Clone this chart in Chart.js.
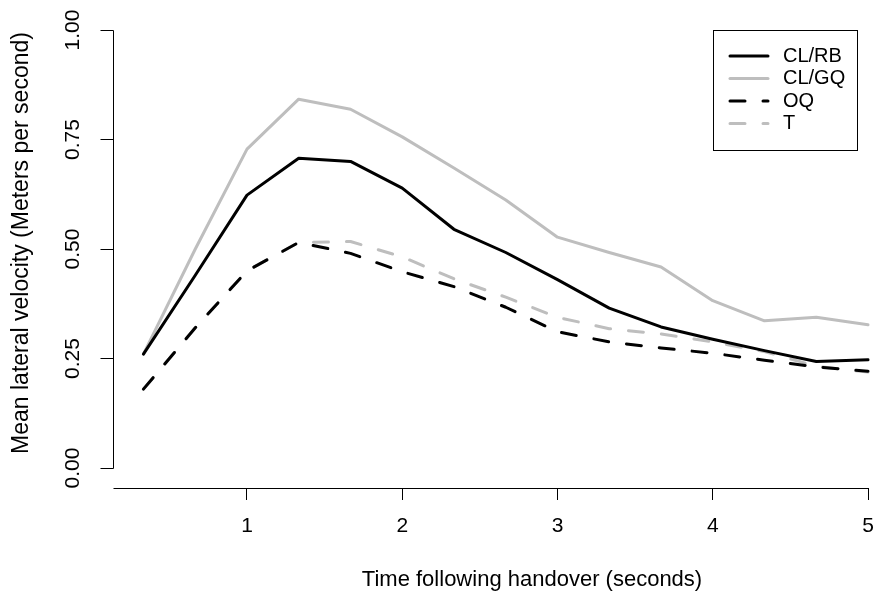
<!DOCTYPE html>
<html>
<head>
<meta charset="utf-8">
<script src="https://cdn.jsdelivr.net/npm/chart.js@4/dist/chart.umd.min.js"></script>
<style>
    body { margin: 0; background: #fff; }
    #myChart { display: block; }
</style>
</head>
<body>
<canvas id="myChart" width="878" height="601"></canvas>
<script>
// time after handover (s), one sample every third of a second
const times = [0.333, 0.667, 1, 1.333, 1.667, 2, 2.333, 2.667, 3, 3.333, 3.667, 4, 4.333, 4.667, 5];

const clrb = [0.26, 0.44, 0.623, 0.707, 0.70, 0.639, 0.545, 0.492, 0.43, 0.365, 0.322, 0.294, 0.268, 0.243, 0.247];
const clgq = [0.26, 0.50, 0.728, 0.842, 0.819, 0.756, 0.685, 0.612, 0.527, 0.492, 0.459, 0.382, 0.336, 0.344, 0.327];
const oq = [0.18, 0.32, 0.45, 0.515, 0.49, 0.448, 0.414, 0.367, 0.311, 0.288, 0.274, 0.262, 0.246, 0.231, 0.221];
const t = [0.18, 0.32, 0.45, 0.515, 0.517, 0.482, 0.432, 0.39, 0.344, 0.318, 0.306, 0.288, 0.266, 0.232, 0.219];

const seriesNames = ['CL/RB', 'CL/GQ', 'OQ', 'T'];
const xTicks = [1, 2, 3, 4, 5];
const yTicks = [0, 0.25, 0.5, 0.75, 1];
const yTickLabels = ['0.00', '0.25', '0.50', '0.75', '1.00'];
const xTitle = 'Time following handover (seconds)';
const yTitle = 'Mean lateral velocity (Meters per second)';

const FONT = 'Liberation Sans, Arial, sans-serif';
const GRAY = '#bebebe';

const toPoints = (vals) => vals.map((v, i) => ({ x: times[i], y: v }));

function lineSet(label, vals, color, dashed, order) {
    return {
        label: label,
        data: toPoints(vals),
        borderColor: color,
        borderWidth: 3,
        borderDash: dashed ? [15, 18] : [],
        borderCapStyle: 'round',
        borderJoinStyle: 'round',
        pointRadius: 0,
        fill: false,
        tension: 0,
        order: order
    };
}

// R style axes: y axis only spans the tick range, rotated tick labels, titles
const rAxes = {
    id: 'rAxes',
    afterDraw(chart) {
        const c = chart.ctx;
        const xs = chart.scales.x;
        const ys = chart.scales.y;
        const area = chart.chartArea;
        const left = Math.round(area.left) + 0.5;
        const bottom = Math.round(area.bottom) + 0.5;
        c.save();
        c.strokeStyle = '#000';
        c.lineWidth = 1;
        c.beginPath();
        c.moveTo(left, Math.round(ys.getPixelForValue(yTicks[0])) + 0.5);
        c.lineTo(left, Math.round(ys.getPixelForValue(yTicks[yTicks.length - 1])) + 0.5);
        yTicks.forEach((v) => {
            const py = Math.round(ys.getPixelForValue(v)) + 0.5;
            c.moveTo(left - 13, py);
            c.lineTo(left, py);
        });
        c.moveTo(left, bottom);
        c.lineTo(Math.round(xs.getPixelForValue(xTicks[xTicks.length - 1])) + 0.5, bottom);
        c.stroke();

        c.fillStyle = '#000';
        c.font = '21px ' + FONT;
        c.textAlign = 'center';
        c.textBaseline = 'middle';
        yTicks.forEach((v, i) => {
            c.save();
            c.translate(area.left - 40, ys.getPixelForValue(v));
            c.rotate(-Math.PI / 2);
            c.fillText(yTickLabels[i], 0, 0);
            c.restore();
        });

        // titles sit where R put them (centred on its wider plot region)
        c.font = '22px ' + FONT;
        c.fillText(xTitle, 532, 580);
        c.save();
        c.font = '23px ' + FONT;
        c.translate(22, 243);
        c.rotate(-Math.PI / 2);
        c.fillText(yTitle, 0, 0);
        c.restore();
        c.restore();
    }
};

// boxed legend in the top right corner
const boxLegend = {
    id: 'boxLegend',
    afterDraw(chart) {
        const c = chart.ctx;
        c.save();
        c.strokeStyle = '#000';
        c.lineWidth = 1;
        c.setLineDash([]);
        c.strokeRect(713.5, 30.5, 144, 120);
        c.font = '20px ' + FONT;
        c.textAlign = 'left';
        c.textBaseline = 'middle';
        chart.data.datasets.forEach((ds, i) => {
            const y = 56 + i * 22.5;
            c.strokeStyle = ds.borderColor;
            c.lineWidth = ds.borderWidth;
            c.lineCap = 'round';
            c.setLineDash(ds.borderDash);
            c.beginPath();
            c.moveTo(730, y);
            c.lineTo(768, y);
            c.stroke();
            c.setLineDash([]);
            c.fillStyle = '#000';
            c.fillText(ds.label, 783, y);
        });
        c.restore();
    }
};

const ctx = document.getElementById('myChart');

new Chart(ctx, {
    type: 'line',
    data: {
        datasets: [
            lineSet(seriesNames[0], clrb, '#000', false, 0),
            lineSet(seriesNames[1], clgq, GRAY, false, 2),
            lineSet(seriesNames[2], oq, '#000', true, 1),
            lineSet(seriesNames[3], t, GRAY, true, 3)
        ]
    },
    options: {
        responsive: false,
        animation: false,
        events: [],
        layout: {
            padding: { top: 12, right: 2, left: 0, bottom: 0 }
        },
        plugins: {
            legend: { display: false },
            tooltip: { enabled: false }
        },
        scales: {
            x: {
                type: 'linear',
                min: 0.137,
                max: 5.0515,
                afterBuildTicks: (scale) => {
                    scale.ticks = xTicks.map((v) => ({ value: v }));
                },
                afterFit: (scale) => {
                    scale.height = 113;
                    scale.paddingLeft = 0;
                    scale.paddingRight = 0;
                },
                ticks: {
                    color: '#000',
                    font: { family: FONT, size: 21 },
                    padding: 14,
                    maxRotation: 0,
                    autoSkip: false,
                    callback: (v) => String(v)
                },
                grid: {
                    display: true,
                    drawOnChartArea: false,
                    drawTicks: true,
                    tickLength: 12,
                    color: '#000',
                    lineWidth: 1
                },
                border: { display: false },
                title: { display: false }
            },
            y: {
                min: -0.0457,
                max: 1.0411,
                afterFit: (scale) => {
                    scale.width = 113;
                },
                ticks: { display: false },
                grid: { display: false },
                border: { display: false },
                title: { display: false }
            }
        }
    },
    plugins: [rAxes, boxLegend]
});
</script>
</body>
</html>
